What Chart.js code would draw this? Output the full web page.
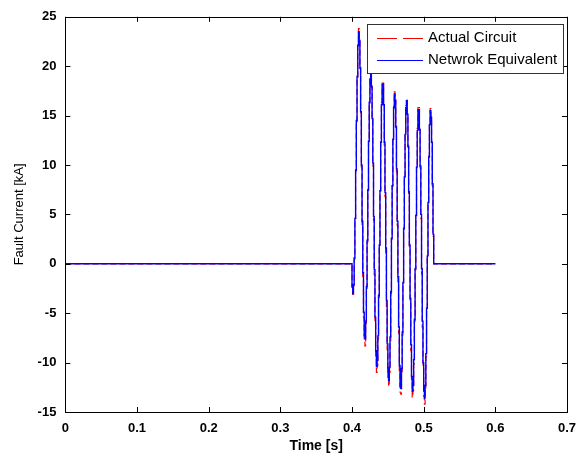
<!DOCTYPE html>
<html>
<head>
<meta charset="utf-8">
<script src="https://cdn.jsdelivr.net/npm/chart.js@4.4.0/dist/chart.umd.min.js"></script>
<style>
  html, body { margin: 0; padding: 0; background: #fff; overflow: hidden; }
  #wrap { width: 579px; height: 457px; }
</style>
</head>
<body>
<div id="wrap"><canvas id="faultChart"></canvas></div>
<script>
// Series labels
const seriesNames = ["Actual Circuit", "Netwrok Equivalent"];

// Time window (s)
const simStart = 0;
const simEnd = 0.6;
const faultStart = 0.4;   // first sample of the fault
const sampleStep = 0.001; // sample interval of the recorded current

// Fault current samples [kA], one per sample from 0.400 s
const actualCurrent = [
  -2.4, -3.1, -2.2, 0.5, 4.5, 9.4, 14.4, 19.0, 22.3, 23.8,
  22.8, 19.9, 15.3, 9.8, 4.0, -1.3, -5.4, -7.8, -8.3, -6.3,
  -2.6, 2.2, 7.4, 12.4, 16.4, 18.9, 19.4, 18.0, 14.6, 9.9,
  4.4, -1.1, -6.0, -9.4, -11.0, -10.3, -7.6, -3.4, 1.8, 7.4,
  12.4, 16.3, 18.3, 18.3, 16.0, 12.0, 6.8, 1.1, -4.3, -8.7,
  -11.5, -12.4, -11.0, -7.8, -3.0, 2.5, 7.9, 12.7, 15.9, 17.4,
  16.6, 13.8, 9.3, 3.9, -1.8, -7.0, -10.9, -13.0, -13.2, -11.1,
  -7.2, -2.1, 3.5, 8.8, 13.2, 16.0, 16.7, 15.2, 11.8, 7.0,
  1.5, -4.0, -8.8, -12.0, -13.5, -12.8, -10.1, -5.8, -0.6, 4.9,
  9.9, 13.7, 15.8, 15.8, 13.6, 9.7, 4.6, -1.0, -6.4, -10.6,
  -13.4, -14.2, -12.8, -9.4, -4.7, 0.7, 6.2, 10.9, 14.3, 15.7,
  14.9, 12.3, 7.9, 2.8, 0
];

const equivalentCurrent = [
  -2.3, -3.0, -2.1, 0.6, 4.6, 9.5, 14.5, 18.9, 22.1, 23.5,
  22.6, 19.8, 15.4, 10.0, 4.3, -0.9, -4.9, -7.3, -7.6, -5.8,
  -2.3, 2.4, 7.5, 12.4, 16.3, 18.7, 19.2, 17.9, 14.7, 10.2,
  4.8, -0.6, -5.4, -8.8, -10.4, -9.8, -7.3, -3.2, 1.9, 7.4,
  12.3, 16.1, 18.1, 18.2, 16.1, 12.3, 7.2, 1.6, -3.7, -8.1,
  -10.9, -11.8, -10.5, -7.4, -2.8, 2.6, 7.9, 12.6, 15.8, 17.2,
  16.5, 13.9, 9.6, 4.3, -1.3, -6.4, -10.3, -12.4, -12.6, -10.6,
  -6.9, -1.9, 3.6, 8.8, 13.1, 15.8, 16.5, 15.1, 11.9, 7.3,
  1.9, -3.5, -8.2, -11.4, -12.9, -12.3, -9.7, -5.6, -0.5, 4.9,
  9.8, 13.5, 15.6, 15.6, 13.6, 9.9, 5.0, -0.5, -5.8, -10.0,
  -12.8, -13.6, -12.3, -9.1, -4.5, 0.8, 6.2, 10.8, 14.1, 15.5,
  14.8, 12.3, 8.1, 3.0, 0
];

// Axis ticks
const xTicks = [0, 0.1, 0.2, 0.3, 0.4, 0.5, 0.6, 0.7];
const xTickLabels = ["0", "0.1", "0.2", "0.3", "0.4", "0.5", "0.6", "0.7"];
const yTicks = [-15, -10, -5, 0, 5, 10, 15, 20, 25];

// zero before the fault, the samples, then zero again to the end
function toPoints(samples) {
  const pts = [{ x: simStart, y: 0 }];
  samples.forEach((v, i) => {
    pts.push({ x: +(faultStart + i * sampleStep).toFixed(4), y: v });
  });
  pts.push({ x: simEnd, y: 0 });
  return pts;
}

const fontFamily = "'Liberation Sans', Arial, sans-serif";

// box round the plot with inward ticks on all four sides, x labels, legend
const boxPlugin = {
  id: "box",
  afterDatasetsDraw(chart) {
    const { ctx, chartArea: a, scales } = chart;
    ctx.save();
    ctx.strokeStyle = "#000";
    ctx.lineWidth = 1;
    ctx.beginPath();
    xTicks.forEach((t) => {
      const px = Math.round(scales.x.getPixelForValue(t)) + 0.5;
      ctx.moveTo(px, a.bottom);
      ctx.lineTo(px, a.bottom - 5);
      ctx.moveTo(px, a.top);
      ctx.lineTo(px, a.top + 5);
    });
    yTicks.forEach((t) => {
      const py = Math.round(scales.y.getPixelForValue(t)) + 0.5;
      ctx.moveTo(a.left, py);
      ctx.lineTo(a.left + 5, py);
      ctx.moveTo(a.right, py);
      ctx.lineTo(a.right - 5, py);
    });
    ctx.stroke();
    ctx.strokeRect(Math.round(a.left) + 0.5, Math.round(a.top) + 0.5,
      Math.round(a.right - a.left), Math.round(a.bottom - a.top));

    // x tick labels and x axis title
    ctx.fillStyle = "#000";
    ctx.textAlign = "center";
    ctx.textBaseline = "middle";
    ctx.font = "bold 13px " + fontFamily;
    xTicks.forEach((t, i) => {
      ctx.fillText(xTickLabels[i], scales.x.getPixelForValue(t), a.bottom + 16);
    });
    ctx.font = "bold 14px " + fontFamily;
    ctx.fillText("Time [s]", (a.left + a.right) / 2, a.bottom + 34);

    // legend box in the upper right corner
    const lx = 367, ly = 24, lw = 196, lh = 49;
    ctx.fillStyle = "#fff";
    ctx.fillRect(lx, ly, lw, lh);
    ctx.strokeStyle = "#333";
    ctx.strokeRect(lx + 0.5, ly + 0.5, lw, lh);
    ctx.font = "15px " + fontFamily;
    ctx.textAlign = "left";
    chart.data.datasets.forEach((ds, i) => {
      const y = ly + 14 + i * 22;
      ctx.strokeStyle = ds.borderColor;
      ctx.lineWidth = 1;
      ctx.setLineDash(ds.borderDash ? [20, 6] : []);
      ctx.beginPath();
      ctx.moveTo(377, y + 0.5);
      ctx.lineTo(423, y + 0.5);
      ctx.stroke();
      ctx.setLineDash([]);
      ctx.fillStyle = "#000";
      ctx.fillText(ds.label, 428, y);
    });
    ctx.restore();
  },
};

const tickFont = { family: fontFamily, size: 13, weight: "bold" };

const ctx = document.getElementById("faultChart").getContext("2d");
const faultChart = new Chart(ctx, {
  type: "line",
  data: {
    datasets: [
      {
        label: seriesNames[0],
        data: toPoints(actualCurrent),
        borderColor: "#ff0000",
        borderWidth: 1.2,
        borderDash: [6, 3],
        pointRadius: 0,
        stepped: "before",
        order: 2,
      },
      {
        label: seriesNames[1],
        data: toPoints(equivalentCurrent),
        borderColor: "#0000ff",
        borderWidth: 1.4,
        pointRadius: 0,
        stepped: "before",
        order: 1,
      },
    ],
  },
  options: {
    responsive: true,
    maintainAspectRatio: false,
    animation: false,
    layout: { autoPadding: false, padding: { left: 3, right: 12, top: 16, bottom: 45 } },
    plugins: {
      legend: { display: false },
      tooltip: { enabled: false },
    },
    scales: {
      x: {
        type: "linear",
        min: 0,
        max: 0.7,
        afterBuildTicks: (axis) => { axis.ticks = xTicks.map((v) => ({ value: v })); },
        grid: { display: false, drawTicks: false },
        border: { display: false },
        ticks: { display: false },
      },
      y: {
        min: -15,
        max: 25,
        afterBuildTicks: (axis) => { axis.ticks = yTicks.map((v) => ({ value: v })); },
        grid: { display: false, drawTicks: false },
        border: { display: false },
        ticks: {
          padding: 9,
          color: "#000",
          font: tickFont,
        },
        title: {
          display: true,
          text: "Fault Current [kA]",
          color: "#000",
          font: { family: fontFamily, size: 13 },
          padding: { top: 9, bottom: 1 },
        },
      },
    },
  },
  plugins: [boxPlugin],
});
</script>
</body>
</html>
